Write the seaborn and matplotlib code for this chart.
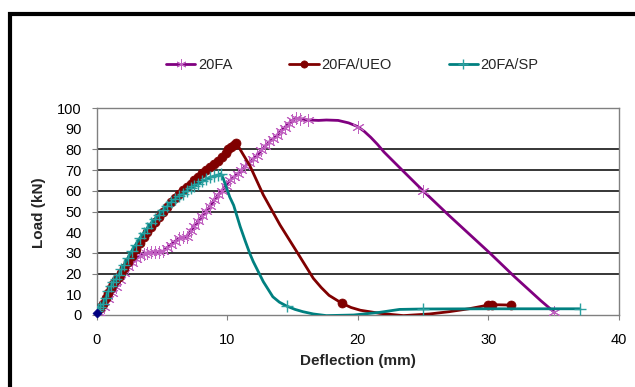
import matplotlib
matplotlib.use('Agg')
import matplotlib.pyplot as plt
import seaborn as sns
from matplotlib.patches import Rectangle
from matplotlib.lines import Line2D

# ---------------- data ----------------
series_names = ["20FA", "20FA/UEO", "20FA/SP"]

# 20FA (purple) : dense test points, then sparse tail
fa_x = [0.3, 0.6, 0.9, 1.2, 1.5, 1.8, 2.1, 2.4, 2.7, 3.0, 3.3, 3.6, 3.9, 4.2, 4.5,
        4.8, 5.1, 5.4, 5.7, 6.0, 6.3, 6.6, 6.9, 7.2, 7.5, 7.8, 8.1, 8.4, 8.7, 9.0,
        9.3, 9.6, 9.9, 10.2, 10.5, 10.8, 11.1, 11.4, 11.7, 12.0, 12.3, 12.6, 12.9,
        13.2, 13.5, 13.8, 14.1, 14.4, 14.7, 15.0, 15.3, 15.6, 16.2,
        17.0, 17.6, 18.5, 19.3, 20.0, 20.5, 21.0, 21.5, 22.0, 23.0, 25.0, 27.0,
        30.1, 32.0, 34.0, 35.0]
fa_y = [0.8, 4.0, 7.5, 10.5, 13.5, 17.0, 20.5, 23.0, 25.0, 27.0, 28.5, 29.5, 30.0,
        30.2, 30.3, 30.4, 30.8, 32.5, 34.0, 35.5, 37.0, 37.5, 37.8, 40.5, 43.0,
        45.5, 48.0, 50.3, 52.5, 55.5, 58.0, 60.0, 62.5, 65.0, 66.5, 68.3, 70.0,
        72.0, 73.5, 75.5, 77.0, 79.5, 81.5, 83.5, 85.0, 86.5, 89.0, 90.5, 92.5,
        94.0, 95.0, 94.8, 94.2,
        94.0, 94.2, 94.0, 92.8, 91.0, 88.7, 85.8, 82.5, 78.8, 72.5, 60.0, 48.0,
        30.0, 18.5, 7.0, 1.6]
fa_marked = [True] * 53 + [False, False, False, False, True, False, False, False,
                           False, False, True, False, False, False, False, True]

# 20FA/UEO (dark red)
ueo_x = [0.0, 0.1, 0.3, 0.5, 0.7, 0.9, 1.1, 1.3, 1.5, 1.7, 1.9, 2.1, 2.4, 2.7, 3.0,
         3.3, 3.6, 3.9, 4.2, 4.5, 4.8, 5.1, 5.4, 5.7, 6.0, 6.3, 6.6, 6.9, 7.2, 7.5,
         7.8, 8.1, 8.4, 8.7, 9.0, 9.3, 9.6, 9.9, 10.1, 10.3, 10.5, 10.7,
         10.9, 11.75, 12.77, 14.05, 15.33, 16.6, 17.2, 17.8, 18.8, 19.5, 20.2,
         21.7, 23.5, 25.5, 27.0, 28.5, 30.0, 30.3, 31.7]
ueo_y = [3.0, 3.2, 3.5, 5.5, 8.0, 10.5, 13.0, 15.0, 17.0, 18.5, 20.5, 22.5, 25.5,
         28.5, 32.0, 35.0, 37.5, 40.0, 42.5, 45.0, 47.5, 50.0, 52.0, 54.5, 56.5,
         58.5, 60.5, 62.0, 63.5, 65.0, 66.5, 68.5, 70.0, 71.5, 73.0, 74.5, 76.5,
         78.5, 80.0, 81.0, 82.0, 83.0,
         81.0, 72.0, 58.0, 43.5, 30.6, 17.7, 13.3, 9.5, 5.6, 3.6, 2.3,
         0.8, -0.3, 0.5, 1.6, 3.0, 4.8, 5.0, 4.8]
ueo_marked = [True] * 42 + [False] * 8 + [True] + [False] * 7 + [True, True, True]

# 20FA/SP (teal)
sp_x = [0.0, 0.1, 0.3, 0.5, 0.7, 0.9, 1.1, 1.3, 1.5, 1.7, 1.9, 2.1, 2.4, 2.7, 3.0,
        3.3, 3.6, 3.9, 4.2, 4.5, 4.8, 5.1, 5.4, 5.7, 6.0, 6.3, 6.6, 6.9, 7.2, 7.5,
        7.8, 8.1, 8.4, 8.7, 9.0, 9.3, 9.5,
        9.7, 10.2, 10.5, 11.0, 11.4, 11.75, 12.0, 12.77, 13.5, 14.0, 14.56, 15.2,
        15.8, 16.6, 17.6, 19.7, 21.7, 23.2, 25.0, 30.0, 35.0, 37.0]
sp_y = [2.0, 3.0, 4.0, 5.5, 8.0, 11.5, 14.0, 16.0, 17.5, 19.5, 22.0, 24.0, 27.5,
        31.0, 34.0, 37.0, 39.5, 42.0, 44.5, 46.5, 48.5, 50.5, 52.5, 54.5, 56.0,
        57.5, 58.5, 60.0, 61.5, 62.5, 63.5, 64.5, 65.5, 66.5, 67.0, 67.5, 68.2,
        66.0, 57.0, 53.0, 42.7, 35.5, 29.5, 25.8, 16.1, 8.8, 6.2, 4.3, 2.7,
        1.6, 0.5, -0.3, 0.0, 1.3, 2.7, 2.9, 3.0, 3.0, 3.0]
sp_marked = [True] * 37 + [False] * 10 + [True] + [False] * 7 + [True, False, False, True]

origin_x = [0.0]
origin_y = [0.8]

x_ticks = [0, 10, 20, 30, 40]
y_ticks = [0, 10, 20, 30, 40, 50, 60, 70, 80, 90, 100]
grid_levels = [20, 30, 50, 60, 70, 80]

# ---------------- style ----------------
sns.set_theme(style='white')
plt.rcParams['font.family'] = ['Liberation Sans', 'DejaVu Sans']

W, H = 635, 387
fig = plt.figure(figsize=(W / 100, H / 100), dpi=100)
fig.patch.set_facecolor('white')

ax = fig.add_axes([96.5 / W, 1 - 315 / H, (619 - 96.5) / W, (315 - 108) / H])
ax.set_facecolor('white')

purple = '#800080'
red = '#800000'
teal = '#008080'

for lvl in grid_levels:
    ax.axhline(lvl, color='black', lw=1.1, zorder=1)

styles = [
    dict(color=purple, marker=(6, 2, 0), markersize=9, mec='#c060c0', mfc='none', mew=0.7),
    dict(color=red, marker='o', markersize=6.5, mec=red, mfc=red, mew=0.5),
    dict(color=teal, marker='+', markersize=9, mec='#2aa0a0', mfc='none', mew=1.0),
]
datasets = [(fa_x, fa_y, fa_marked), (ueo_x, ueo_y, ueo_marked), (sp_x, sp_y, sp_marked)]

for (xs, ys, mk), st in zip(datasets, styles):
    idx = [i for i, m in enumerate(mk) if m]
    sns.lineplot(x=xs, y=ys, ax=ax, sort=False, estimator=None, lw=2.0,
                 color=st['color'], marker=st['marker'], markersize=st['markersize'],
                 markeredgecolor=st['mec'], markerfacecolor=st['mfc'],
                 markeredgewidth=st['mew'], markevery=idx, zorder=3)

sns.scatterplot(x=origin_x, y=origin_y, ax=ax, color='#000080', marker='D', s=22,
                edgecolor='#000080', zorder=5, clip_on=False)

ax.set_xlim(0, 40)
ax.set_ylim(0, 100)
ax.set_xticks(x_ticks)
ax.set_yticks(y_ticks)
ax.set_xticklabels([str(t) for t in x_ticks])
ax.set_yticklabels([str(t) for t in y_ticks])
ax.tick_params(axis='y', direction='out', length=3.6, width=0.8, color='#808080',
               pad=7, labelsize=10.5, left=True, labelcolor='black')
ax.tick_params(axis='x', direction='out', length=3.6, width=0.8, color='#808080',
               pad=9, labelsize=10.5, bottom=True, labelcolor='black')
for t, v in zip(ax.yaxis.get_major_ticks(), y_ticks):
    if v in (10, 40, 90):
        t.tick1line.set_visible(False)
for s in ax.spines.values():
    s.set_color('#808080')
    s.set_linewidth(1.0)
ax.set_xlabel('')
ax.set_ylabel('')

fig.text(358 / W, 1 - 361 / H, 'Deflection (mm)', ha='center', va='center',
         fontsize=11, fontweight='bold')
fig.text(39 / W, 1 - 213 / H, 'Load (kN)', ha='center', va='center',
         rotation=90, fontsize=11, fontweight='bold')

handles = [Line2D([], [], color=st['color'], lw=2.0, marker=st['marker'],
                  markersize=st['markersize'] * 0.8, markeredgecolor=st['mec'],
                  markerfacecolor=st['mfc'], markeredgewidth=st['mew'])
           for st in styles]
fig.legend(handles, series_names, loc='center left',
           bbox_to_anchor=(166 / W, 1 - 65 / H), ncol=3, frameon=False,
           fontsize=10.5, handlelength=2.0, handletextpad=0.2,
           columnspacing=3.9, borderpad=0, borderaxespad=0)

# outer black frame (only left and top edges fall inside the image)
fig.patches.append(Rectangle((10 / W, -0.2), 2.0, 1.2 - 13.5 / H,
                             transform=fig.transFigure, fill=False,
                             edgecolor='black', lw=3.0, clip_on=False))

fig.savefig('out.png', dpi=100, facecolor='white')
